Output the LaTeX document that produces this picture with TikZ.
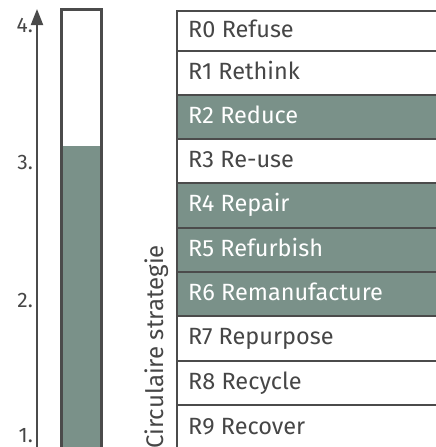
\documentclass[tikz,border=0pt]{standalone}
\usepackage{fontspec}
\setmainfont{Fira Sans}
\usetikzlibrary{arrows.meta}

\definecolor{stratgreen}{RGB}{122,145,137}
\definecolor{linegray}{RGB}{75,75,75}
\definecolor{textgray}{RGB}{70,70,70}

\begin{document}
\begin{tikzpicture}[x=1pt, y=-1pt,
  rowbox/.style={draw=linegray, line width=2.5pt},
  rowtext/.style={anchor=base west, inner sep=0pt, font=\fontsize{23.5}{28}\selectfont},
  levellabel/.style={anchor=base east, inner sep=0pt, text=textgray, font=\fontsize{21}{24}\selectfont}]
  \useasboundingbox (0,0) rectangle (436,447);

  % Level axis with arrow on top
  \coordinate (axisbottom) at (37,460);
  \coordinate (axistop) at (37,9);
  \draw[linegray, line width=2pt, -{Triangle[length=16pt, width=12pt]}] (axisbottom) -- (axistop);

  % Level labels
  \node[levellabel] (lvlfour) at (33,32) {4.};
  \node[levellabel] (lvlthree) at (33,169) {3.};
  \node[levellabel] (lvltwo) at (33,307) {2.};
  \node[levellabel] (lvlone) at (33,442) {1.};

  % Bar, filled up to level of R2
  \fill[stratgreen] (61,146) rectangle (101,460);
  \draw[linegray, line width=3pt] (61,9) rectangle (101,460);

  % Vertical title
  \node[rotate=90, anchor=base west, inner sep=0pt, text=textgray,
        font=\fontsize{24}{28}\selectfont] (title) at (163,449) {Circulaire strategie};

  % R-ladder: fills first, then the lines
  \foreach \i/\t/\b/\fl/\tc/\txt in {
      0/11/51/white/textgray/R0 Refuse,
      1/51/95/white/textgray/R1 Rethink,
      2/95/139/stratgreen/white/R2 Reduce,
      3/139/183/white/textgray/R3 Re-use,
      4/183/228/stratgreen/white/R4 Repair,
      5/228/272/stratgreen/white/R5 Refurbish,
      6/272/316/stratgreen/white/R6 Remanufacture,
      7/316/361/white/textgray/R7 Repurpose,
      8/361/405/white/textgray/R8 Recycle,
      9/405/452/white/textgray/R9 Recover}{
    \fill[\fl] (177,\t) rectangle (445,\b);
    \node[rowtext, text=\tc] (r\i) at (188,{(\t+\b)/2+6}) {\txt};
  }
  \foreach \t/\b in {11/51, 51/95, 95/139, 139/183, 183/228, 228/272,
                     272/316, 316/361, 361/405, 405/452}{
    \draw[rowbox] (177,\t) rectangle (445,\b);
  }
\end{tikzpicture}
\end{document}
